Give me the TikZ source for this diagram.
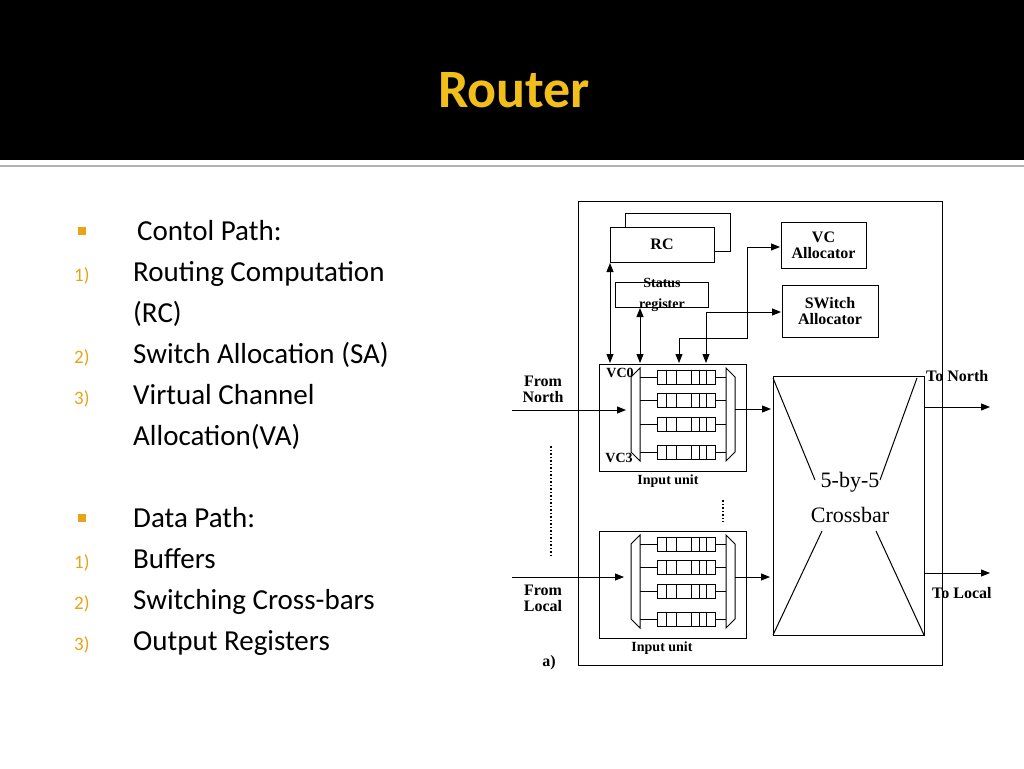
\documentclass[tikz,border=0pt]{standalone}
\usepackage{fontspec}
\setmainfont{Carlito}
\newfontfamily\tms{Liberation Serif}
\usetikzlibrary{arrows.meta}
\definecolor{gold}{HTML}{F2BE1A}
\definecolor{bul}{HTML}{E8A317}
\begin{document}
\begin{tikzpicture}[x=1pt,y=-1pt,
  lbl/.style={font=\tms\fontsize{16}{16}\selectfont\bfseries, inner sep=0pt, align=center},
  box/.style={draw, line width=1pt, inner sep=0pt},
  ln/.style={line width=1pt},
  arr/.style={line width=1pt,-{Triangle[length=9pt,width=7pt]}},
  darr/.style={line width=1pt,{Triangle[length=9pt,width=7pt]}-{Triangle[length=9pt,width=7pt]}},
  body/.style={font=\fontsize{29}{29}\selectfont, anchor=base west, inner sep=0pt},
  num/.style={font=\fontsize{19}{19}\selectfont, text=bul, anchor=base west, inner sep=0pt},
  sq/.style={fill=bul, minimum size=8pt, inner sep=0pt}]
\useasboundingbox (0,0) rectangle (1024,768);
\fill[white] (0,0) rectangle (1024,768);
\fill[black] (0,0) rectangle (1024,160);
\draw[line width=2pt, gray!60] (0,166) -- (1024,166);
\node[text=gold, font=\fontsize{54}{54}\selectfont\bfseries] (title) at (514,90) {Router};
% left text
\node[sq] (b1) at (82,231) {};
\node[body] (t0) at (137,240) {Contol Path:};
\node[num] (n1) at (74,281) {1)}; \node[body] (t1) at (133,281) {Routing Computation};
\node[body] (t1b) at (133,322) {(RC)};
\node[num] (n2) at (74,363) {2)}; \node[body] (t2) at (133,363) {Switch Allocation (SA)};
\node[num] (n3) at (74,404) {3)}; \node[body] (t3) at (133,404) {Virtual Channel};
\node[body] (t3b) at (133,445) {Allocation(VA)};
\node[sq] (b2) at (82,518) {};
\node[body] (d0) at (133,527) {Data Path:};
\node[num] (m1) at (74,568) {1)}; \node[body] (d1) at (133,568) {Buffers};
\node[num] (m2) at (74,609) {2)}; \node[body] (d2) at (133,609) {Switching Cross-bars};
\node[num] (m3) at (74,650) {3)}; \node[body] (d3) at (133,650) {Output Registers};
% diagram
\draw[ln] (578,201) rectangle (942,665);
\draw[ln] (625,251) -- (625,213) -- (730,213) -- (730,251) -- (714,251);
\draw[ln, fill=white] (610,227) rectangle (714,262);
\node[lbl] (rc) at (662,244) {RC};
\draw[ln] (615,282) rectangle (708,307);
\node[lbl, font=\tms\fontsize{14}{14}\selectfont\bfseries] (st) at (662,283) {Status};
\node[lbl, font=\tms\fontsize{14}{14}\selectfont\bfseries] (rg) at (662,305) {register};
\node[box, minimum width=85pt, minimum height=46pt] (vca) at (823.5,245) {};
\node[lbl] at (823.5,245) {VC\\Allocator};
\node[box, minimum width=96pt, minimum height=52pt] (swa) at (830,311) {};
\node[lbl] at (830,311) {SWitch\\Allocator};
% input units
\newcommand{\iunit}[1]{%
\begin{scope}[yshift=#1]
\draw[ln] (599,364) rectangle (746,471);
\draw[ln] (640,368) -- (631,377) -- (631,452) -- (640,461) -- cycle;
\draw[ln] (726,368) -- (735,377) -- (735,452) -- (726,461) -- cycle;
\foreach \yy in {377,400,424,452}{
  \draw[ln] (640,\yy) -- (657,\yy);
  \draw[ln] (715,\yy) -- (726,\yy);
  \draw[ln, fill=white] (657,\yy-7) rectangle (715,\yy+7);
  \foreach \f in {0.17,0.33,0.6,0.73,0.86}{\draw[line width=0.8pt] (657+58*\f,\yy-7) -- (657+58*\f,\yy+7);}
}
\end{scope}}
\iunit{0pt}
\iunit{-167pt}
\node[lbl, font=\tms\fontsize{14}{14}\selectfont\bfseries] at (620,373) {VC0};
\node[lbl, font=\tms\fontsize{14}{14}\selectfont\bfseries] at (619,458) {VC3};
\node[lbl, font=\tms\fontsize{14}{14}\selectfont\bfseries] at (668,481) {Input unit};
\node[lbl, font=\tms\fontsize{14}{14}\selectfont\bfseries] at (662,648) {Input unit};
% crossbar
\draw[ln] (773,376) rectangle (924,635);
\draw[ln] (773,378) -- (815,480); \draw[ln] (917,378) -- (880,480);
\draw[ln] (773,635) -- (822,531); \draw[ln] (924,635) -- (876,531);
\node[font=\tms\fontsize{22}{22}\selectfont, inner sep=0pt] (xb) at (850,482) {5-by-5};
\node[font=\tms\fontsize{22}{22}\selectfont, inner sep=0pt] (xb2) at (850,515) {Crossbar};
% arrows
\draw[arr] (512,410) -- (626,410);
\draw[arr] (735,409) -- (771,409);
\draw[arr] (924,407) -- (990,407);
\draw[arr] (512,577) -- (624,577);
\draw[arr] (735,577) -- (770,577);
\draw[arr] (924,573) -- (990,573);
\node[lbl] at (543,389) {From\\North};
\node[lbl] at (543,598) {From\\Local};
\node[lbl, anchor=west] at (926,376) {To North};
\node[lbl, anchor=west] at (932,593) {To Local};
\node[lbl] at (549,663) {a)};
\draw[darr] (610,263) -- (610,363);
\draw[darr] (640,308) -- (640,363);
\draw[ln,{Triangle[length=9pt,width=7pt]}-] (679,363) -- (679,338) -- (747,338) -- (747,247);
\draw[arr] (747,247) -- (780,247);
\draw[ln,{Triangle[length=9pt,width=7pt]}-] (706,363) -- (706,312);
\draw[arr] (706,312) -- (781,312);
\draw[line width=1.5pt, dotted] (551,446) -- (551,555);
\draw[line width=1.5pt, dotted] (723,500) -- (723,522);
\end{tikzpicture}
\end{document}
